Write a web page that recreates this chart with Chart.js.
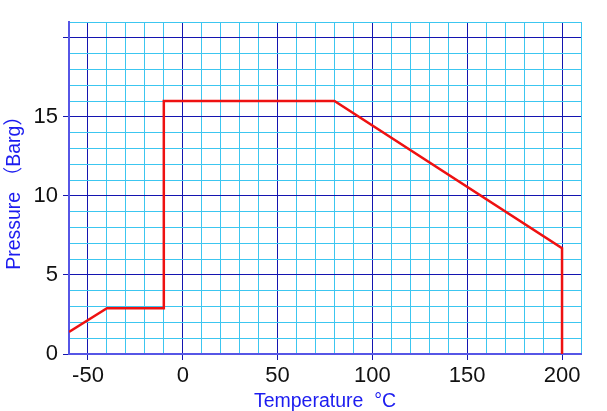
<!DOCTYPE html>
<html lang="en">
<head>
  <meta charset="UTF-8">
  <title>Pressure vs Temperature</title>
  <script src="https://cdn.jsdelivr.net/npm/chart.js"></script>
  <style>
    html, body { margin:0; padding:0; background:#fff; }
    #wrap { width:607px; height:411px; }
  </style>
</head>
<body>
  <div id="wrap"><canvas id="chart" width="607" height="411"></canvas></div>
  <script>
    // rating curve
    const tempC = [-60, -40, -10, -10, 80, 200, 200];
    const pressureBarg = [1.4, 2.9, 2.9, 16, 16, 6.7, 0];
    const xTickLabels = [-50, 0, 50, 100, 150, 200];
    const yTickLabels = [0, 5, 10, 15];

    const MAJOR = '#1414b0', MINOR = '#3cc6f0', AXIS = '#5656e6';
    const tickFont = { family: "'Liberation Sans', Arial, sans-serif", size: 22 };
    const titleFont = { family: "'Liberation Sans', Arial, 'Noto Sans CJK SC', sans-serif", size: 19.5, lineHeight: 1 };

    new Chart(document.getElementById('chart').getContext('2d'), {
      type: 'line',
      data: {
        datasets: [{
          data: tempC.map((t, i) => ({ x: t, y: pressureBarg[i] })),
          borderColor: '#ee1111',
          borderWidth: 2.5,
          pointRadius: 0,
          tension: 0,
          fill: false
        }]
      },
      options: {
        responsive: false,
        animation: false,
        layout: { padding: { left: 0, right: 26, top: 22, bottom: 0 } },
        plugins: { legend: { display: false }, tooltip: { enabled: false } },
        scales: {
          x: {
            type: 'linear', min: -60, max: 210,
            afterFit: s => { s.height = 57; },
            ticks: {
              stepSize: 10, autoSkip: false, maxRotation: 0, padding: 3,
              color: '#111', font: tickFont,
              callback: v => xTickLabels.includes(v) ? String(v) : ''
            },
            grid: {
              tickLength: 6,
              color: c => c.tick && c.tick.value % 50 === 0 ? MAJOR : MINOR,
              tickColor: c => c.tick && c.tick.value % 50 === 0 ? MAJOR : 'rgba(0,0,0,0)'
            },
            border: { color: AXIS, width: 2 },
            title: {
              display: true, text: 'Temperature  °C', color: '#1c1cf0',
              font: titleFont, padding: { top: 0, bottom: 0 }
            }
          },
          y: {
            min: 0, max: 21,
            afterFit: s => { s.width = 69; },
            ticks: {
              stepSize: 1, autoSkip: false, padding: 5,
              color: '#111', font: tickFont,
              callback: v => yTickLabels.includes(v) ? String(v) : ''
            },
            grid: {
              tickLength: 6,
              color: c => c.tick && c.tick.value % 5 === 0 ? MAJOR : MINOR,
              tickColor: c => c.tick && c.tick.value % 5 === 0 ? MAJOR : 'rgba(0,0,0,0)'
            },
            border: { color: AXIS, width: 2 },
            title: {
              display: true, text: 'Pressure （Barg）', color: '#1c1cf0',
              font: titleFont, padding: { top: 5, bottom: 0 }
            }
          }
        }
      }
    });
  </script>
</body>
</html>
